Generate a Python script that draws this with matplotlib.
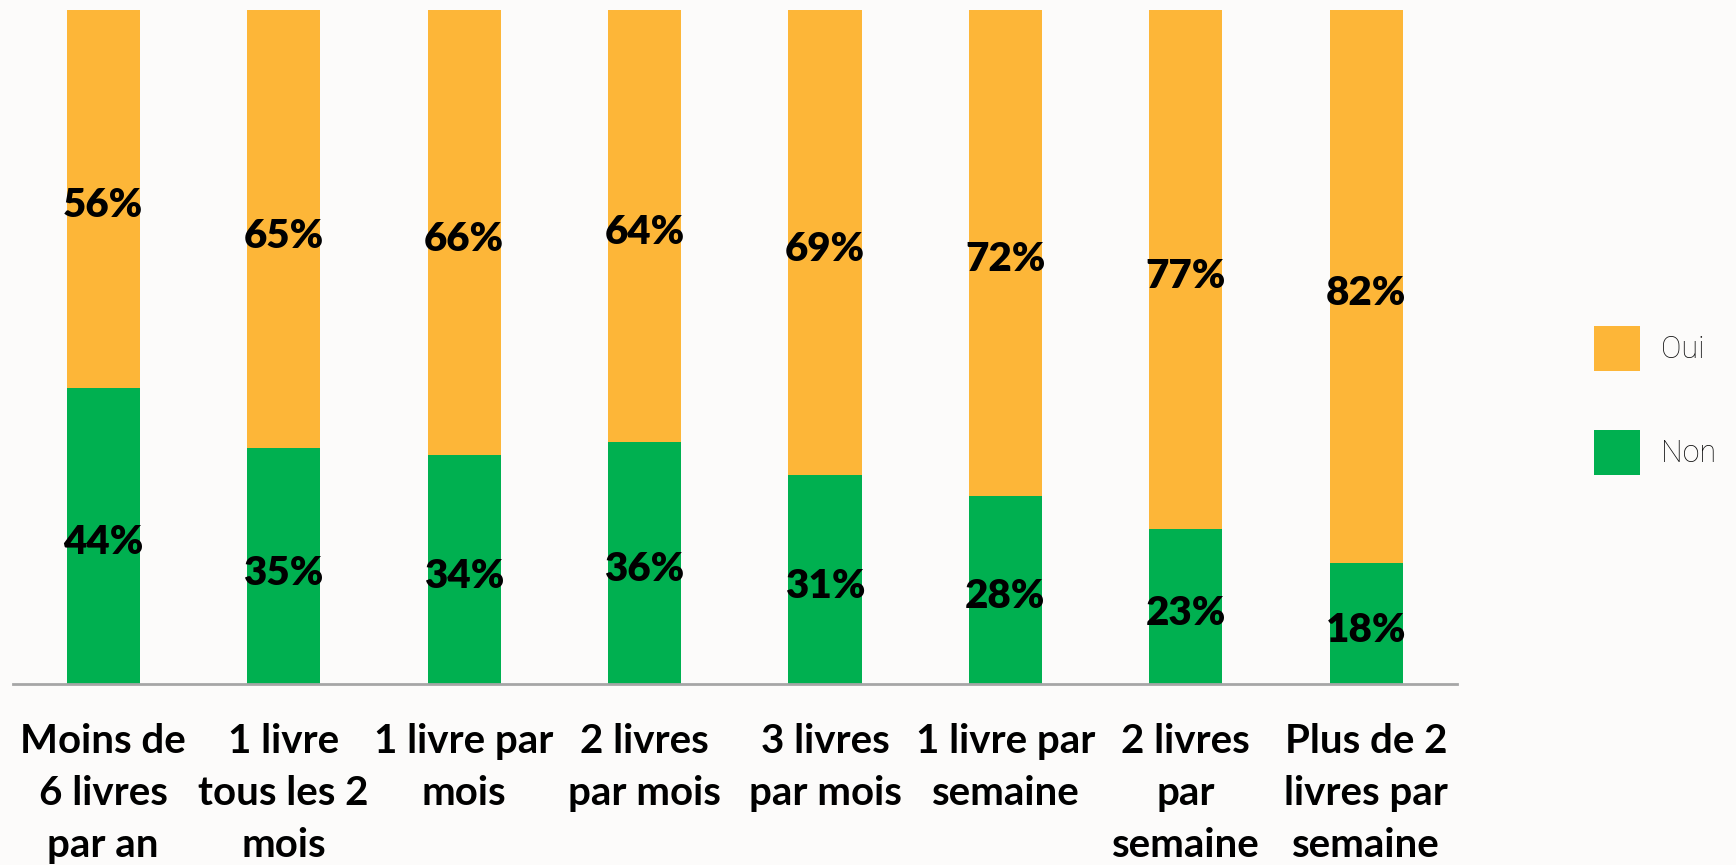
import matplotlib
matplotlib.use("Agg")
import matplotlib.pyplot as plt
import numpy as np

categories = ["Moins de\n6 livres\npar an", "1 livre\ntous les 2\nmois", "1 livre par\nmois",
              "2 livres\npar mois", "3 livres\npar mois", "1 livre par\nsemaine",
              "2 livres\npar\nsemaine", "Plus de 2\nlivres par\nsemaine"]
non_values = [44, 35, 34, 36, 31, 28, 23, 18]
oui_values = [56, 65, 66, 64, 69, 72, 77, 82]
series_names = ["Oui", "Non"]

BG = "#FCFBFA"
ORANGE = "#FDB638"
GREEN = "#00B050"

plt.rcParams['font.family'] = ['Lato', 'DejaVu Sans']

fig = plt.figure(figsize=(17.36, 8.65), dpi=100, facecolor=BG)
ax = fig.add_axes([0.0075, 0.209, 0.8315, 0.779])
ax.set_facecolor(BG)

x = np.arange(len(categories))
w = 0.405
b_non = ax.bar(x, non_values, width=w, color=GREEN, label=series_names[1], zorder=2)
b_oui = ax.bar(x, oui_values, width=w, bottom=non_values, color=ORANGE, label=series_names[0], zorder=2)

for xi, n, o in zip(x, non_values, oui_values):
    ax.text(xi, n / 2 - 1.0, f"{n}%", ha="center", va="center", fontsize=29, fontweight="heavy", color="black")
    ax.text(xi, n + o / 2 - 1.0, f"{o}%", ha="center", va="center", fontsize=29, fontweight="heavy", color="black")

ax.set_xlim(-0.5, 7.5)
ax.set_ylim(0, 100)
for s in ["top", "right", "left"]:
    ax.spines[s].set_visible(False)
ax.spines["bottom"].set_color("#A6A6A6")
ax.spines["bottom"].set_linewidth(2)
ax.set_yticks([])
ax.set_xticks(x)
ax.set_xticklabels(categories, fontsize=29, fontweight="bold", linespacing=1.5)
ax.tick_params(axis="x", length=0, pad=28)

leg = fig.legend(handles=[b_oui, b_non], labels=series_names, loc="center left",
                 bbox_to_anchor=(0.9025, 0.537), frameon=False,
                 handlelength=1.5, handleheight=1.85, labelspacing=1.95, handletextpad=0.7,
                 prop={"family": ["Roboto", "DejaVu Sans"], "weight": "light", "size": 22})
for t in leg.get_texts():
    t.set_color("#111111")

fig.savefig("out.png", dpi=100, facecolor=BG)
